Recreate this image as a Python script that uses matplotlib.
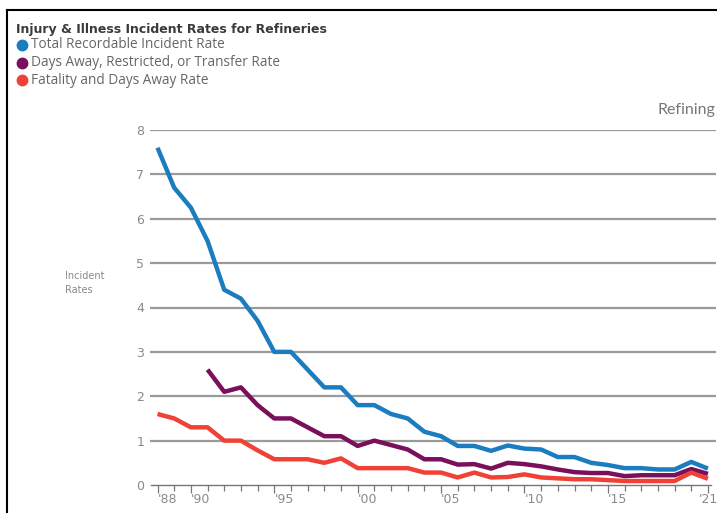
import matplotlib
matplotlib.use("Agg")
import matplotlib.pyplot as plt
from matplotlib.lines import Line2D

years = list(range(1988, 2022))
trir = [7.6, 6.7, 6.25, 5.5, 4.4, 4.2, 3.7, 3.0, 3.0, 2.6, 2.2, 2.2, 1.8, 1.8, 1.6, 1.5,
        1.2, 1.1, 0.88, 0.88, 0.77, 0.89, 0.82, 0.8, 0.63, 0.63, 0.5, 0.45, 0.38, 0.38,
        0.35, 0.35, 0.52, 0.37]
dart_years = list(range(1991, 2022))
dart = [2.6, 2.1, 2.2, 1.8, 1.5, 1.5, 1.3, 1.1, 1.1, 0.88, 1.0, 0.9, 0.8, 0.58, 0.58,
        0.46, 0.47, 0.37, 0.5, 0.47, 0.42, 0.35, 0.29, 0.27, 0.27, 0.2, 0.22, 0.22,
        0.22, 0.36, 0.25]
dafw = [1.6, 1.5, 1.3, 1.3, 1.0, 1.0, 0.78, 0.58, 0.58, 0.58, 0.5, 0.6, 0.38, 0.38,
        0.38, 0.38, 0.28, 0.28, 0.17, 0.28, 0.17, 0.18, 0.24, 0.17, 0.15, 0.13, 0.13,
        0.11, 0.09, 0.09, 0.09, 0.09, 0.28, 0.14]
tick_years = [1988, 1990, 1995, 2000, 2005, 2010, 2015, 2021]
tick_labels = ["'88", "'90", "'95", "'00", "'05", "'10", "'15", "'21"]
series_names = ["Total Recordable Incident Rate",
                "Days Away, Restricted, or Transfer Rate",
                "Fatality and Days Away Rate"]
colors = ["#1c7cc0", "#7a0f5c", "#ef4136"]

W, H = 717, 513
fig = plt.figure(figsize=(W / 100, H / 100), dpi=100)
ax = fig.add_axes([150 / W, 1 - 485 / H, (716 - 150) / W, (485 - 130) / H])

ax.set_ylim(0, 8)
ax.set_xlim(1987.55, 1988 + (716 - 157.5) / 16.68)

for v in range(1, 9):
    ax.axhline(v, color="#9a9a9a", lw=1.6, zorder=1)

ax.plot(years, trir, color=colors[0], lw=3.2, solid_capstyle="butt", zorder=3)
ax.plot(dart_years, dart, color=colors[1], lw=3.2, solid_capstyle="butt", zorder=4)
ax.plot(years, dafw, color=colors[2], lw=3.2, solid_capstyle="butt", zorder=5)

for s in ["top", "right", "left"]:
    ax.spines[s].set_visible(False)
ax.spines["bottom"].set_color("#777777")
ax.spines["bottom"].set_linewidth(1.0)
ax.spines["bottom"].set_bounds(1987.6, 2021.2)

ax.set_yticks(range(0, 9))
ax.set_yticklabels([str(v) for v in range(0, 9)])
ax.tick_params(axis="y", length=0, pad=4, labelsize=9, labelcolor="#8a8a8a")
ax.set_xticks(tick_years)
ax.set_xticklabels(tick_labels)
ax.set_xticks(years, minor=True)
ax.tick_params(axis="x", which="major", length=6, width=0.9, color="#777777",
               pad=0, labelsize=9, labelcolor="#8a8a8a")
ax.tick_params(axis="x", which="minor", length=4, width=0.9, color="#777777")
xl = ax.get_xticklabels()
for lbl in xl:
    lbl.set_horizontalalignment("left")
xl[-1].set_horizontalalignment("center")

fig.text(65 / W, 1 - 283 / H, "Incident\nRates", fontsize=7, color="#8a8a8a",
         va="center", ha="left", linespacing=1.6, family="DejaVu Sans Condensed")

fig.text(715 / W, 1 - 110 / H, "Refining", fontsize=11.5, color="#777777",
         ha="right", va="center", family="Lato")

fig.text(16 / W, 1 - 29 / H, "Injury & Illness Incident Rates for Refineries",
         fontsize=9, fontweight="bold", color="#3a3a3a", ha="left", va="center",
         family="DejaVu Sans Condensed")
for i, (name, c) in enumerate(zip(series_names, colors)):
    yy = 1 - (45 + 17.5 * i) / H
    fig.lines.append(Line2D([22 / W], [yy], marker="o", markersize=7.5, color=c,
                            transform=fig.transFigure))
    fig.text(31 / W, yy, name, fontsize=9.8, color="#666666", ha="left", va="center",
             family="Open Sans")

# outer frame (top and left)
fig.lines.append(Line2D([7 / W, 7 / W], [0, 1 - 10 / H], color="black", lw=1.5,
                        transform=fig.transFigure))
fig.lines.append(Line2D([7 / W, 1], [1 - 10 / H, 1 - 10 / H], color="black", lw=1.5,
                        transform=fig.transFigure))

fig.savefig("out.png", dpi=100)
